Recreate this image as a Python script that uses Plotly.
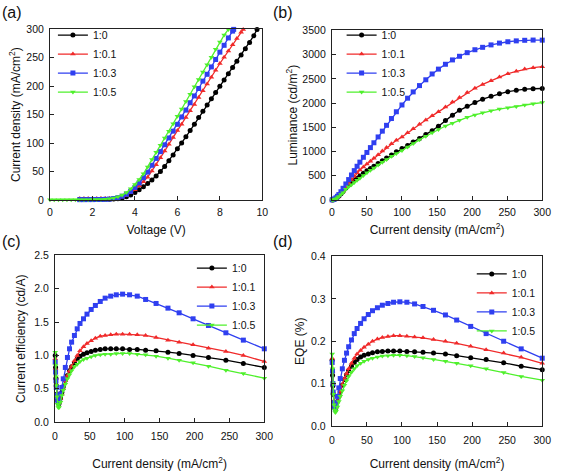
import plotly.graph_objects as go

W, H = 562, 471

SERIES = ["1:0", "1:0.1", "1:0.3", "1:0.5"]
COLORS = ["#000000", "#f02a2a", "#2f3ff0", "#4ff02c"]
SYMBOLS = ["circle", "triangle-up", "square", "triangle-down"]

# ---------------- (a) J-V ----------------
V_A = [0.0, 0.2, 0.4, 0.6, 0.8, 1.0, 1.2, 1.4, 1.6, 1.8, 2.0, 2.2, 2.4, 2.6, 2.8,
       3.0, 3.2, 3.4, 3.6, 3.8, 4.0, 4.2, 4.4, 4.6, 4.8, 5.0, 5.2, 5.4, 5.6, 5.8,
       6.0, 6.2, 6.4, 6.6, 6.8, 7.0, 7.2, 7.4, 7.6, 7.8, 8.0, 8.2, 8.4, 8.6, 8.8,
       9.0, 9.2, 9.4, 9.6]
V_START = [1.4, 1.4, 1.4, 0.0]
V_END = [9.75, 9.1, 8.65, 8.4]

J_A_10 = [1.0, 1.0, 1.0, 1.1, 1.1, 1.2, 1.2, 1.3, 1.5,
          2.2, 3.5, 5.5, 8.8, 13, 18, 23, 29, 35, 42, 50, 59, 69, 79, 90, 100,
          111, 122, 133, 145, 156, 167, 178, 189, 200, 211, 222, 233, 244, 255,
          266, 277, 289, 300]
J_A_101 = [2.0, 2.0, 2.1, 2.2, 2.2, 2.3, 2.3, 2.4, 2.6,
           3.5, 5.0, 8.0, 12.5, 18, 25, 32, 40, 51, 62, 74, 86, 98, 110, 122,
           133, 145, 157, 168, 180, 192, 204, 216, 228, 240, 251, 262, 273, 284,
           295, 300]
J_A_103 = [0.5, 0.5, 0.6, 0.6, 0.7, 0.8, 1.0, 1.5, 2.5,
           4, 6.5, 10, 15, 22, 30, 39, 49, 61, 73, 85, 97, 109, 121, 133, 146,
           158, 171, 183, 196, 209, 221, 234, 247, 260, 272, 285, 297, 300]
J_A_105 = [0.3, 0.3, 0.3, 0.3, 0.3, 0.4, 0.4, 0.4, 0.5, 0.5, 0.6, 0.7, 0.9, 1.3,
           2.0, 3.5,
           5.5, 8.5, 13, 19.5, 27, 36, 46, 58, 71, 84, 96, 109, 121, 134, 147,
           160, 173, 186, 199, 212, 225, 238, 251, 265, 278, 290, 300]
J_A = [J_A_10, J_A_101, J_A_103, J_A_105]

# ---------------- (b) L-J ----------------
J_B = [0.5, 2, 4, 6, 8, 10, 13, 16, 20, 24, 28, 32, 36, 40, 45, 50, 55, 60, 66,
       72, 78, 85, 92, 100, 108, 116, 125, 134, 143, 152, 162, 172, 182, 193,
       204, 215, 227, 239, 251, 263, 275, 287, 300]
L_10 = [1, 5, 15, 30, 55, 80, 125, 175, 245, 310, 360, 405, 450, 495, 550, 600,
        650, 695, 750, 810, 865, 925, 995, 1060, 1125, 1195, 1270, 1350, 1430,
        1520, 1640, 1750, 1850, 1935, 2010, 2080, 2140, 2190, 2235, 2265, 2285,
        2295, 2300]
L_101 = [1, 5, 15, 30, 55, 80, 130, 185, 260, 345, 420, 490, 560, 620, 680, 740,
         800, 860, 930, 1010, 1080, 1160, 1230, 1300, 1385, 1470, 1560, 1650,
         1735, 1820, 1920, 2020, 2115, 2215, 2305, 2385, 2460, 2535, 2605, 2655,
         2700, 2730, 2750]
L_103 = [2, 8, 22, 45, 75, 110, 170, 240, 330, 420, 515, 605, 695, 780, 880, 980,
         1080, 1180, 1300, 1420, 1540, 1680, 1820, 1960, 2100, 2230, 2360, 2480,
         2600, 2700, 2800, 2890, 2965, 3040, 3100, 3150, 3200, 3237, 3265, 3283,
         3295, 3300, 3298]
L_105 = [1, 4, 12, 25, 45, 70, 110, 150, 220, 270, 315, 360, 405, 450, 505, 560,
         610, 660, 720, 780, 835, 900, 960, 1020, 1090, 1165, 1240, 1315, 1385,
         1455, 1525, 1585, 1645, 1705, 1755, 1800, 1840, 1875, 1905, 1930, 1960,
         1985, 2010]
L_B = [L_10, L_101, L_103, L_105]

# ---------------- (c) CE-J and (d) EQE-J ----------------
J_C = [0.5, 1, 1.5, 2, 3, 4, 5, 6, 8, 10, 12, 15, 18, 21, 24, 28, 32, 36, 41, 46,
       52, 58, 65, 72, 80, 88, 97, 107, 118, 130, 145, 162, 178, 198, 220, 245,
       270, 300]
CE_10 = [1.00, 0.82, 0.66, 0.55, 0.42, 0.33, 0.28, 0.28, 0.36, 0.45, 0.53, 0.63,
         0.70, 0.77, 0.83, 0.89, 0.95, 0.99, 1.02, 1.04, 1.06, 1.08, 1.09, 1.10,
         1.10, 1.10, 1.10, 1.09, 1.09, 1.08, 1.07, 1.05, 1.03, 1.00, 0.97, 0.93,
         0.88, 0.82]
CE_101 = [0.95, 0.80, 0.65, 0.55, 0.42, 0.34, 0.30, 0.30, 0.36, 0.42, 0.50, 0.62,
          0.70, 0.77, 0.84, 0.92, 1.00, 1.07, 1.13, 1.18, 1.22, 1.26, 1.29, 1.30,
          1.31, 1.32, 1.32, 1.32, 1.31, 1.30, 1.27, 1.23, 1.20, 1.16, 1.11, 1.06,
          1.00, 0.91]
CE_103 = [0.90, 0.75, 0.62, 0.52, 0.40, 0.33, 0.30, 0.32, 0.42, 0.52, 0.65, 0.82,
          0.97, 1.10, 1.20, 1.30, 1.40, 1.48, 1.55, 1.62, 1.69, 1.75, 1.81, 1.86,
          1.89, 1.91, 1.92, 1.91, 1.89, 1.84, 1.78, 1.71, 1.64, 1.55, 1.45, 1.34,
          1.23, 1.10]
CE_105 = [1.05, 0.85, 0.68, 0.55, 0.38, 0.27, 0.22, 0.22, 0.30, 0.40, 0.48, 0.57,
          0.65, 0.71, 0.77, 0.83, 0.87, 0.91, 0.94, 0.96, 0.98, 1.00, 1.01, 1.02,
          1.02, 1.03, 1.03, 1.03, 1.02, 1.01, 0.99, 0.96, 0.93, 0.89, 0.84, 0.78,
          0.73, 0.66]
CE_C = [CE_10, CE_101, CE_103, CE_105]

EQE_10 = [0.155, 0.12, 0.095, 0.075, 0.055, 0.045, 0.04, 0.045, 0.058, 0.07,
          0.082, 0.097, 0.11, 0.121, 0.131, 0.141, 0.15, 0.157, 0.163, 0.167,
          0.17, 0.173, 0.175, 0.176, 0.177, 0.177, 0.177, 0.176, 0.175, 0.174,
          0.172, 0.17, 0.166, 0.161, 0.157, 0.149, 0.141, 0.133]
EQE_101 = [0.16, 0.13, 0.10, 0.08, 0.06, 0.048, 0.042, 0.045, 0.058, 0.07,
           0.082, 0.098, 0.112, 0.124, 0.135, 0.148, 0.16, 0.17, 0.178, 0.186,
           0.193, 0.2, 0.205, 0.209, 0.211, 0.213, 0.213, 0.212, 0.21, 0.208,
           0.204, 0.2, 0.195, 0.188, 0.18, 0.172, 0.162, 0.148]
EQE_103 = [0.15, 0.13, 0.10, 0.08, 0.055, 0.045, 0.04, 0.05, 0.07, 0.09, 0.112,
           0.135, 0.155, 0.172, 0.187, 0.203, 0.218, 0.23, 0.242, 0.253, 0.263,
           0.272, 0.279, 0.285, 0.289, 0.292, 0.293, 0.292, 0.288, 0.282, 0.273,
           0.262, 0.25, 0.235, 0.218, 0.2, 0.182, 0.16]
EQE_105 = [0.17, 0.135, 0.10, 0.075, 0.05, 0.038, 0.032, 0.035, 0.045, 0.058,
           0.07, 0.083, 0.096, 0.107, 0.117, 0.127, 0.135, 0.142, 0.148, 0.153,
           0.157, 0.16, 0.163, 0.165, 0.166, 0.167, 0.167, 0.166, 0.164, 0.161,
           0.157, 0.153, 0.148, 0.142, 0.135, 0.126, 0.117, 0.108]
EQE_D = [EQE_10, EQE_101, EQE_103, EQE_105]

FONT = "Liberation Sans, Arial, sans-serif"

fig = go.Figure()


def add(x, y, i, xa, ya, leg, size=5):
    fig.add_trace(go.Scatter(
        x=x, y=y, name=SERIES[i], mode="lines+markers",
        line=dict(color=COLORS[i], width=1.3),
        marker=dict(symbol=SYMBOLS[i], size=size, color=COLORS[i], line=dict(width=0)),
        xaxis=xa, yaxis=ya, legend=leg, cliponaxis=False,
    ))


for i in range(4):
    v = [vv for vv in V_A if V_START[i] - 1e-9 <= vv < V_END[i] - 1e-9] + [V_END[i]]
    assert len(v) == len(J_A[i]), (i, len(v), len(J_A[i]))
    add(v, J_A[i], i, "x", "y", "legend")
for i in range(4):
    add(J_B, L_B[i], i, "x2", "y2", "legend2")
for i in range(4):
    add(J_C, CE_C[i], i, "x3", "y3", "legend3")
for i in range(4):
    add(J_C, EQE_D[i], i, "x4", "y4", "legend4")


def px_x(p):
    return p / W


def px_y(p):
    return 1 - p / H


def axis(dom, rng, title, standoff, dtick, fmt=None, anchor=None, lstand=0):
    d = dict(
        domain=dom, range=rng, showline=True, linecolor="#222", linewidth=1,
        mirror=True, ticks="inside", ticklen=4, tickcolor="#222", tickwidth=1,
        showgrid=False, zeroline=False, dtick=dtick, tick0=0,
        ticklabeloverflow="allow", ticklabelstandoff=lstand,
        tickfont=dict(family=FONT, size=10.5, color="#111"),
        title=dict(text=title, standoff=standoff,
                   font=dict(family=FONT, size=12, color="#111")),
        anchor=anchor,
    )
    if fmt:
        d["tickformat"] = fmt
    return d


CD = "Current density (mA/cm<sup>2</sup>)"

fig.update_layout(
    width=W, height=H, margin=dict(l=0, r=0, t=0, b=0),
    paper_bgcolor="white", plot_bgcolor="white", showlegend=True,
    font=dict(family=FONT, color="#111"),
    xaxis=axis([px_x(48), px_x(265)], [0, 10], "Voltage (V)", 9, 2, anchor="y", lstand=2),
    yaxis=axis([px_y(199), px_y(24)], [0, 300], CD, 3, 50, anchor="x", lstand=3),
    xaxis2=axis([px_x(336), px_x(551)], [0, 300], CD, 9, 50, anchor="y2", lstand=2),
    yaxis2=axis([px_y(199), px_y(25)], [0, 3500], "Luminance (cd/m<sup>2</sup>)", 2, 500, anchor="x2", lstand=3),
    xaxis3=axis([px_x(53), px_x(267)], [0, 300], CD, 18, 50, anchor="y3", lstand=4),
    yaxis3=axis([px_y(427), px_y(256)], [0, 2.5], "Current efficiency (cd/A)", 5, 0.5, ".1f", anchor="x3", lstand=3),
    xaxis4=axis([px_x(336), px_x(551)], [0, 300], CD, 15, 50, anchor="y4", lstand=4),
    yaxis4=axis([px_y(431), px_y(257)], [0, 0.4], "EQE (%)", 3, 0.1, ".1f", anchor="x4", lstand=3),
)

leg_common = dict(bgcolor="rgba(0,0,0,0)", borderwidth=0, xanchor="left",
                  yanchor="top", itemwidth=30, tracegroupgap=0,
                  font=dict(family=FONT, size=10.5, color="#111"))
fig.update_layout(
    legend=dict(x=px_x(51), y=px_y(15), **leg_common),
    legend2=dict(x=px_x(346), y=px_y(15), **leg_common),
    legend3=dict(x=px_x(193), y=px_y(254), **leg_common),
    legend4=dict(x=px_x(479), y=px_y(260), **leg_common),
)

for txt, x, y in [("(a)", -3, 7), ("(b)", 274, 7), ("(c)", -3, 242), ("(d)", 274, 242)]:
    fig.add_annotation(text=txt, x=px_x(x), y=px_y(y), xref="paper", yref="paper",
                       xanchor="left", yanchor="middle", showarrow=False,
                       font=dict(family=FONT, size=16, color="#111"))

fig.write_html("out.html", config={"displayModeBar": False},
               post_script="document.body.style.margin='0px';")
